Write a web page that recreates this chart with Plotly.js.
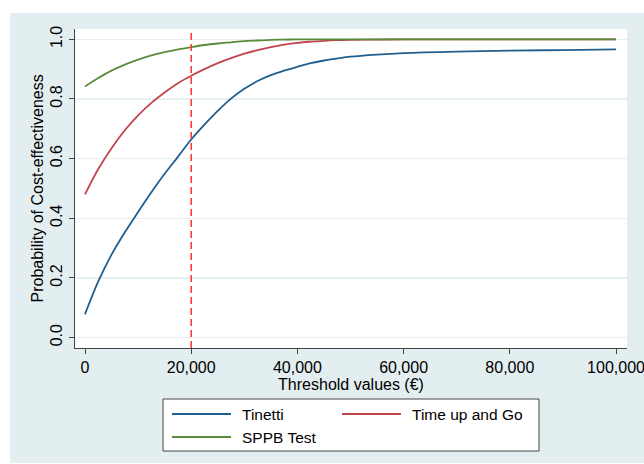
<!DOCTYPE html>
<html>
<head>
<meta charset="utf-8">
<script src="https://cdn.plot.ly/plotly-3.0.1.min.js"></script>
<style>
  html, body { margin: 0; padding: 0; background: #ffffff; }
  #wrap { position: relative; width: 644px; height: 464px; overflow: hidden; }
  #bg { position: absolute; left: 10px; top: 13px; width: 640px; height: 450px; background: #e3eef0; }
  #chart { position: absolute; left: 0; top: 0; width: 644px; height: 464px; }
</style>
</head>
<body>
<div id="wrap"><div id="bg"></div><div id="chart"></div></div>
<script>
// Willingness-to-pay thresholds (EUR)
const thresholds = [0, 2500, 5000, 7500, 10000, 12500, 15000, 17500, 20000, 22500, 25000, 27500, 30000, 32500, 35000, 37500, 40000, 42500, 45000, 47500, 50000, 55000, 60000, 70000, 80000, 90000, 100000];
// Probability of cost-effectiveness per test
const tinetti = [0.078, 0.188, 0.278, 0.353, 0.421, 0.487, 0.549, 0.606, 0.664, 0.714, 0.76, 0.801, 0.834, 0.860, 0.880, 0.895, 0.908, 0.920, 0.929, 0.936, 0.942, 0.949, 0.954, 0.959, 0.962, 0.964, 0.966];
const timeUpAndGo = [0.48, 0.565, 0.635, 0.695, 0.745, 0.787, 0.822, 0.853, 0.878, 0.90, 0.92, 0.937, 0.952, 0.964, 0.974, 0.982, 0.988, 0.992, 0.995, 0.997, 0.998, 0.999, 1.0, 1.0, 1.0, 1.0, 1.0];
const sppb = [0.842, 0.87, 0.895, 0.915, 0.932, 0.946, 0.957, 0.966, 0.974, 0.981, 0.986, 0.990, 0.994, 0.996, 0.998, 0.999, 1.0, 1.0, 1.0, 1.0, 1.0, 1.0, 1.0, 1.0, 1.0, 1.0, 1.0];
const seriesNames = ['Tinetti', 'Time up and Go', 'SPPB Test'];
const referenceThreshold = 20000;
const xTicks = [0, 20000, 40000, 60000, 80000, 100000];
const yTicks = [0, 0.2, 0.4, 0.6, 0.8, 1.0];
const xTitle = 'Threshold values (€)';
const yTitle = 'Probability of Cost-effectiveness';

const colors = ['#215f8e', '#c2444e', '#5a8c3c'];
const FONT = 'Liberation Sans, Arial, Helvetica, sans-serif';

const traces = [tinetti, timeUpAndGo, sppb].map((ys, i) => ({
  x: thresholds, y: ys, type: 'scatter', mode: 'lines', name: seriesNames[i],
  line: { color: colors[i], width: 1.8, shape: 'spline', smoothing: 1 },
  showlegend: false
}));

// Plot area geometry (px) used to place the boxed two-column legend below it
const M = { l: 75, r: 17, t: 29, b: 116 };
const W = 644, H = 464;
const pw = W - M.l - M.r, ph = H - M.t - M.b;
const px = v => (v - M.l) / pw;          // page x px -> paper x
const py = v => (H - M.b - v) / ph;       // page y px -> paper y

const shapes = [{
  type: 'line', xref: 'x', yref: 'paper',
  x0: referenceThreshold, x1: referenceThreshold, y0: 0, y1: 1,
  line: { color: '#ff3333', width: 1.5, dash: '7px,4px' }
}, {
  type: 'rect', xref: 'paper', yref: 'paper',
  x0: px(163), x1: px(539), y0: py(451), y1: py(399),
  fillcolor: '#ffffff', line: { color: '#444', width: 1 }
}];
const annotations = [];
// legend slots: [sampleStartX, rowY]
const slots = [[172, 414], [342, 414], [172, 437]];
seriesNames.forEach((name, i) => {
  const [sx, sy] = slots[i];
  shapes.push({
    type: 'line', xref: 'paper', yref: 'paper',
    x0: px(sx), x1: px(sx + 59), y0: py(sy), y1: py(sy),
    line: { color: colors[i], width: 2 }
  });
  annotations.push({
    xref: 'paper', yref: 'paper', x: px(sx + 68), y: py(sy),
    xanchor: 'left', yanchor: 'middle', showarrow: false, text: name,
    font: { family: FONT, size: 15.5, color: '#000' }
  });
});
annotations.push({
  xref: 'paper', yref: 'paper', x: px(37), y: 0.5, xanchor: 'center', yanchor: 'middle',
  textangle: -90, showarrow: false, text: yTitle,
  font: { family: FONT, size: 16, color: '#000' }
});

const layout = {
  width: W, height: H,
  margin: M,
  paper_bgcolor: 'rgba(0,0,0,0)',
  plot_bgcolor: '#ffffff',
  font: { family: FONT, size: 15, color: '#000' },
  showlegend: false,
  xaxis: {
    range: [-1883, 102070],
    tickvals: xTicks, tickformat: ',d', ticklabeloverflow: 'allow',
    ticks: 'outside', ticklen: 5, tickcolor: '#444', tickwidth: 1,
    showline: true, linecolor: '#444', linewidth: 1,
    showgrid: false, zeroline: false, automargin: false,
    tickfont: { family: FONT, size: 16, color: '#000' },
    title: { text: xTitle, font: { family: FONT, size: 16, color: '#000' }, standoff: 2 }
  },
  yaxis: {
    range: [-0.035, 1.0346],
    tickvals: yTicks, tickformat: '.1f', tickangle: -90,
    ticks: 'outside', ticklen: 5, tickcolor: '#444', tickwidth: 1,
    ticklabelstandoff: 1,
    showline: true, linecolor: '#444', linewidth: 1,
    showgrid: true, gridcolor: '#e6eff1', gridwidth: 1.5, zeroline: false, automargin: false,
    tickfont: { family: FONT, size: 16, color: '#000' }
  },
  shapes: shapes,
  annotations: annotations
};
Plotly.newPlot('chart', traces, layout, { displayModeBar: false, staticPlot: true });
</script>
</body>
</html>
